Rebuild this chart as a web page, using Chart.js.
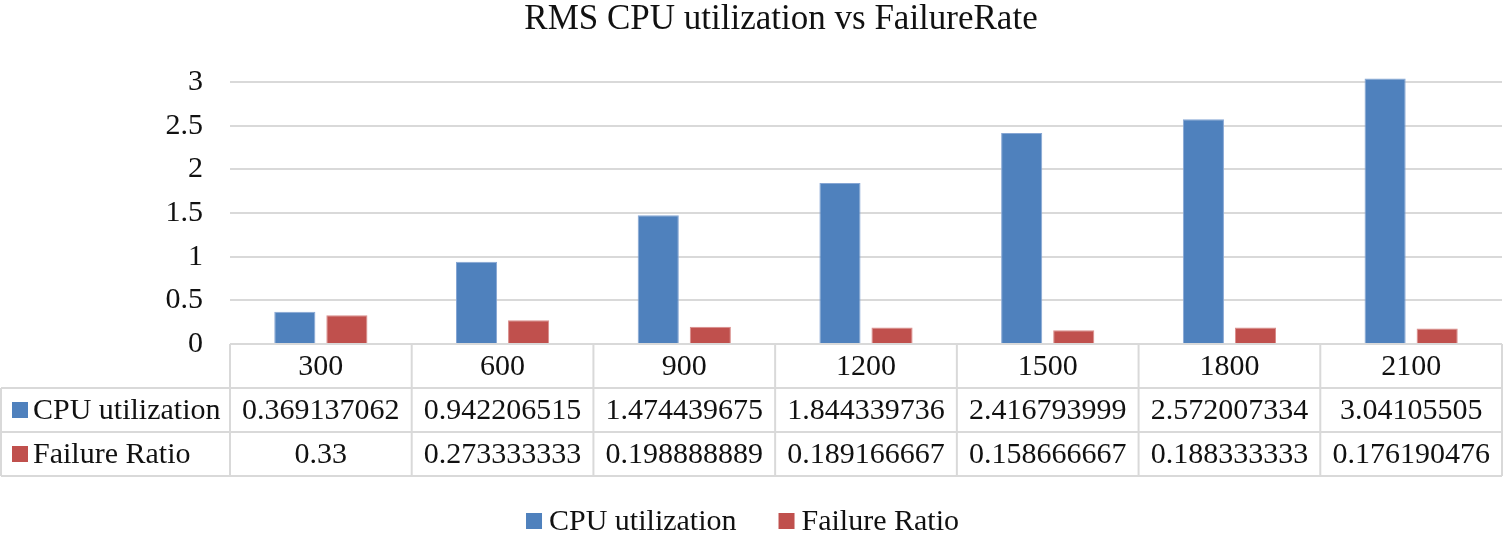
<!DOCTYPE html>
<html>
<head>
<meta charset="utf-8">
<script src="https://cdn.jsdelivr.net/npm/chart.js@4/dist/chart.umd.min.js"></script>
<style>
  html, body { margin: 0; padding: 0; background: #ffffff; }
  #wrap { width: 1503px; height: 538px; }
</style>
</head>
<body>
<div id="wrap"><canvas id="c" width="1503" height="538"></canvas></div>
<script>
const chartTitle = 'RMS CPU utilization vs FailureRate';
const categories = ['300', '600', '900', '1200', '1500', '1800', '2100'];
const seriesNames = ['CPU utilization', 'Failure Ratio'];
const cpuUtilization = [0.369137062, 0.942206515, 1.474439675, 1.844339736, 2.416793999, 2.572007334, 3.04105505];
const failureRatio = [0.33, 0.273333333, 0.198888889, 0.189166667, 0.158666667, 0.188333333, 0.176190476];
const yTicks = [0, 0.5, 1, 1.5, 2, 2.5, 3];

const FONT = '"Liberation Serif", "Times New Roman", serif';
const TEXT = '#111111';
const GRID = '#d9d9d9';
const colors = ['#4f81bd', '#c0504d'];
const borders = ['#86a6d4', '#d98c8a'];

const tablePlugin = {
  id: 'dataTable',
  afterLayout(chart) {
    // Title in the reference sits slightly right of the canvas centre
    chart.titleBlock.left += 30;
    chart.titleBlock.right += 30;
  },
  afterDraw(chart) {
    const ctx = chart.ctx;
    const xs = chart.scales.x;
    const area = chart.chartArea;
    const n = categories.length;
    const colW = (area.right - area.left) / n;
    const rowH = 44;
    const top = area.bottom;
    const leftEdge = 1;
    const rightEdge = area.right;
    ctx.save();
    ctx.strokeStyle = GRID;
    ctx.lineWidth = 2;
    ctx.beginPath();
    ctx.moveTo(area.left, top); ctx.lineTo(rightEdge, top);
    for (let r = 1; r <= 3; r++) {
      ctx.moveTo(leftEdge, top + r * rowH); ctx.lineTo(rightEdge, top + r * rowH);
    }
    ctx.moveTo(leftEdge, top + rowH); ctx.lineTo(leftEdge, top + 3 * rowH);
    for (let i = 0; i <= n; i++) {
      const x = area.left + i * colW;
      ctx.moveTo(x, top); ctx.lineTo(x, top + 3 * rowH);
    }
    ctx.stroke();

    ctx.fillStyle = TEXT;
    ctx.font = '30px ' + FONT;
    ctx.textAlign = 'center';
    ctx.textBaseline = 'middle';
    const rows = [categories, cpuUtilization, failureRatio];
    rows.forEach((row, r) => {
      row.forEach((v, i) => {
        const cx = xs.getPixelForValue(i);
        ctx.fillText(String(v), cx, top + r * rowH + rowH / 2 + 1);
      });
    });
    ctx.textAlign = 'left';
    chart.data.datasets.forEach((ds, d) => {
      const cy = top + (d + 1) * rowH + rowH / 2;
      ctx.fillStyle = ds.backgroundColor;
      ctx.fillRect(12, cy - 8, 16, 16);
      ctx.fillStyle = TEXT;
      ctx.fillText(ds.label, 33, cy + 1);
    });

    // legend
    const legY = 522;
    const items = chart.data.datasets.map(ds => ({ label: ds.label, color: ds.backgroundColor, w: ctx.measureText(ds.label).width }));
    const box = 16, gapText = 7, gapItem = 42;
    let total = 0;
    items.forEach((it, k) => { total += box + gapText + it.w + (k ? gapItem : 0); });
    let x = (chart.width - total) / 2 - 9;
    items.forEach((it, k) => {
      if (k) x += gapItem;
      ctx.fillStyle = it.color;
      ctx.fillRect(x, legY - box / 2 - 1, box, box);
      x += box + gapText;
      ctx.fillStyle = TEXT;
      ctx.fillText(it.label, x, legY);
      x += it.w;
    });
    ctx.restore();
  }
};

new Chart(document.getElementById('c'), {
  type: 'bar',
  data: {
    labels: categories,
    datasets: [
      { label: seriesNames[0], data: cpuUtilization, backgroundColor: colors[0], borderColor: borders[0], borderWidth: 1,
        categoryPercentage: 0.573, barPercentage: 0.79 },
      { label: seriesNames[1], data: failureRatio, backgroundColor: colors[1], borderColor: borders[1], borderWidth: 1,
        categoryPercentage: 0.573, barPercentage: 0.79 }
    ]
  },
  options: {
    responsive: false,
    animation: false,
    devicePixelRatio: 1,
    layout: { padding: { left: 0, right: 1, top: 0, bottom: 194 } },
    plugins: {
      legend: { display: false },
      tooltip: { enabled: false },
      title: {
        display: true,
        text: chartTitle,
        color: TEXT,
        font: { family: FONT, size: 35, weight: 'normal', lineHeight: 1.1 },
        padding: { top: 1, bottom: 25 }
      }
    },
    scales: {
      x: { display: false },
      y: {
        min: 0,
        max: 3.2,
        afterFit(scale) { scale.width = 230; },
        afterBuildTicks(scale) { scale.ticks = yTicks.map(v => ({ value: v })); },
        border: { display: false },
        grid: { color: GRID, lineWidth: 2, drawTicks: false },
        ticks: {
          padding: 27,
          color: TEXT,
          font: { family: FONT, size: 30 },
          callback: v => String(v)
        }
      }
    }
  },
  plugins: [tablePlugin]
});
</script>
</body>
</html>
